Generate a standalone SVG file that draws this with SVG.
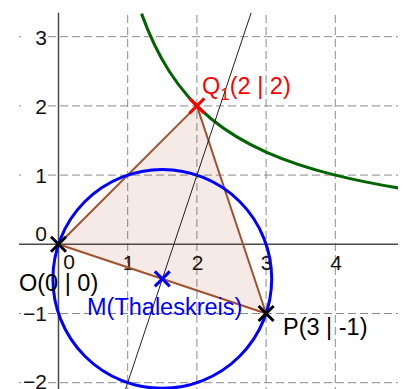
<svg xmlns="http://www.w3.org/2000/svg" width="406" height="389" viewBox="0 0 406 389">
<defs>
<style>
.grid{stroke:#8a8a8a;stroke-width:1;stroke-dasharray:8 4;fill:none}
.axis{stroke:#4a4a4a;stroke-width:1.5;fill:none}
.tick{font-family:"Liberation Sans",Arial,sans-serif;font-size:21px;fill:#111}
.lbl{font-family:"Liberation Sans",Arial,sans-serif;font-size:23.5px}
.xm{stroke-width:3;fill:none;stroke-linecap:butt}
</style>
<clipPath id="plot"><rect x="19" y="12.7" width="379" height="376.3"/></clipPath>
</defs>
<rect width="406" height="389" fill="#fff"/>
<g id="grid" clip-path="url(#plot)">
<path class="grid" d="M127.7 15V389M196.9 15V389M266.1 15V389M335.3 15V389"/>
<path class="grid" d="M48 36.7H398M48 105.9H398M48 175.1H398M48 313.5H398M48 382.7H398"/>
<path stroke="#8a8a8a" stroke-width="1" d="M19 36.7h2M19 105.9h2M19 175.1h2M19 313.5h2M19 382.7h2"/>
</g>
<g id="axes">
<path class="axis" d="M19 244.3H398M58.5 12.7V389"/>
</g>
<g id="ticklabels" class="tick">
<text x="47" y="45" text-anchor="end">3</text>
<text x="47" y="114" text-anchor="end">2</text>
<text x="47" y="183" text-anchor="end">1</text>
<text x="47" y="241" text-anchor="end">0</text>
<text x="47" y="321" text-anchor="end">−1</text>
<text x="47" y="388.5" text-anchor="end">−2</text>
<text x="69" y="269" text-anchor="middle">0</text>
<text x="128.5" y="270" text-anchor="middle">1</text>
<text x="197.5" y="270" text-anchor="middle">2</text>
<text x="266.5" y="270" text-anchor="middle">3</text>
<text x="336" y="270" text-anchor="middle">4</text>
</g>
<g id="triangle">
<polygon points="58.5,244.3 196.9,105.9 266.1,313.5" fill="#993300" fill-opacity="0.1" stroke="#a0522d" stroke-width="2" stroke-linejoin="round"/>
</g>
<g id="connectors" clip-path="url(#plot)">
<path id="hyperbola" d="M141.54 13.63C150.77 39.26 159.99 56.88 169.22 71.3C183.06 92.93 196.9 107.04 210.74 118.48C229.19 133.73 247.650 143.83 266.1 152.03C289.17 162.28 312.23 169.33 335.3 175.1C362.98 182.02 390.66 186.97 418.34 191.07" fill="none" stroke="#006400" stroke-width="3"/>
<circle id="thaleskreis" cx="162.3" cy="278.9" r="109.4" fill="none" stroke="#0000ff" stroke-width="3"/>
<line id="mittelsenkrechte" x1="251.4" y1="12" x2="125.6" y2="389" stroke="#222" stroke-width="1"/>
</g>
<g id="O">
<path class="xm" stroke="#000" d="M51 236.8L66 251.8M51 251.8L66 236.8"/>
<text class="lbl" x="19" y="291" fill="#000">O(0 | 0)</text>
</g>
<g id="Q1">
<path class="xm" stroke="#ff0000" d="M189.4 98.4L204.4 113.4M189.4 113.4L204.4 98.4"/>
<text class="lbl" x="202" y="94" fill="#ff0000">Q<tspan font-size="17" dy="6">1</tspan><tspan dy="-6">(2 | 2)</tspan></text>
</g>
<g id="M">
<path class="xm" stroke="#0000ff" d="M154.8 271.4L169.8 286.4M154.8 286.4L169.8 271.4"/>
<text class="lbl" x="87" y="315" fill="#0000ff">M(Thaleskreis)</text>
</g>
<g id="P">
<path class="xm" stroke="#000" d="M258.6 306L273.6 321M258.6 321L273.6 306"/>
<text class="lbl" x="283" y="335" fill="#000">P(3 | -1)</text>
</g>
</svg>
